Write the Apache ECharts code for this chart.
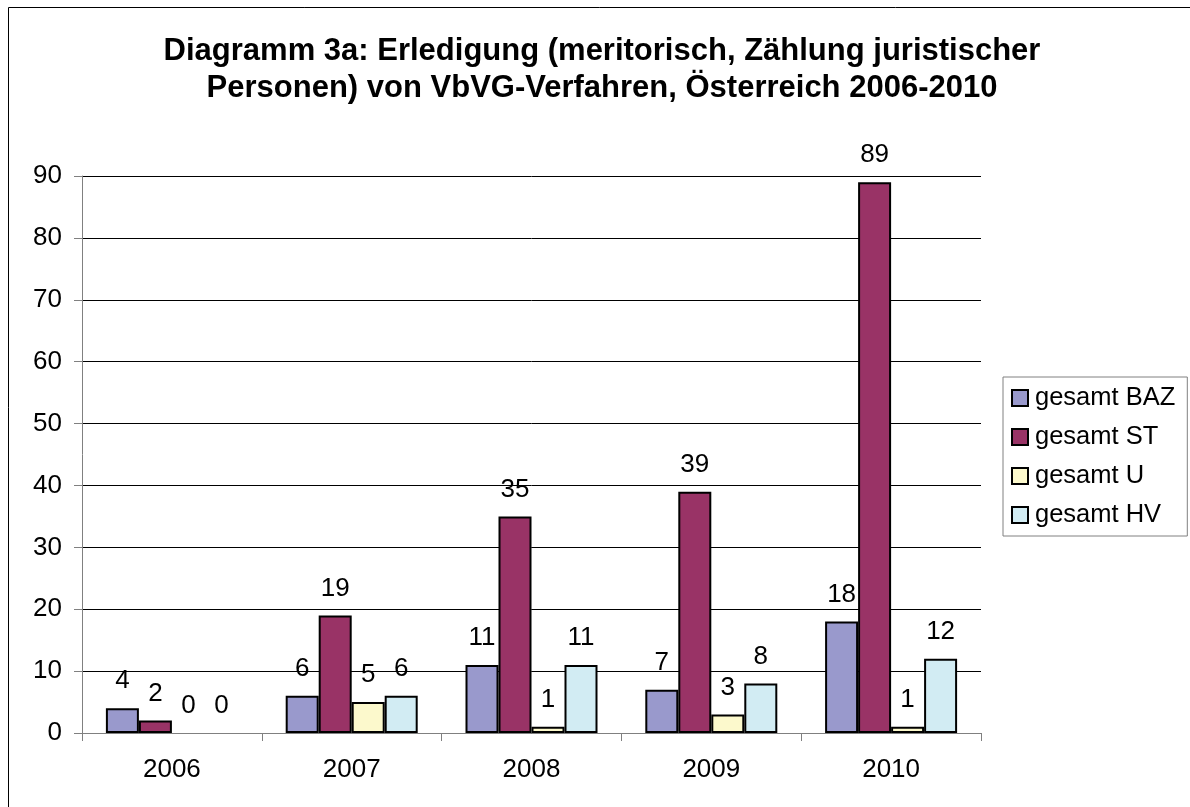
<!DOCTYPE html>
<html>
<head>
<meta charset="utf-8">
<script src="https://cdn.jsdelivr.net/npm/echarts@6/dist/echarts.min.js"></script>
<style>
  html, body { margin: 0; padding: 0; background: #fff; }
  #chart { width: 1190px; height: 807px; }
</style>
</head>
<body>
<div id="chart"></div>
<script>
// data
const years = ['2006', '2007', '2008', '2009', '2010'];
const seriesNames = ['gesamt BAZ', 'gesamt ST', 'gesamt U', 'gesamt HV'];
const baz = [4, 6, 11, 7, 18];
const st = [2, 19, 35, 39, 89];
const u = [0, 5, 1, 3, 1];
const hv = [0, 6, 11, 8, 12];
const colors = ['#9999cc', '#993366', '#fcf9cc', '#d2ecf3'];

const font = '"Liberation Sans", Arial, sans-serif';

const chart = echarts.init(document.getElementById('chart'));

const makeSeries = (name, data, color) => ({
  name: name,
  type: 'bar',
  // zero bars get no outline, like in Excel
  data: data.map(v => v === 0 ? { value: v, itemStyle: { borderWidth: 0 } } : v),
  barWidth: 33,
  barGap: '0%',
  itemStyle: { color: color, borderColor: '#000', borderWidth: 2 },
  label: {
    show: true,
    position: 'top',
    distance: 14,
    color: '#000',
    fontFamily: font,
    fontSize: 26
  }
});

chart.setOption({
  animation: false,
  backgroundColor: '#fff',
  textStyle: { fontFamily: font },
  title: {
    text: 'Diagramm 3a: Erledigung (meritorisch, Zählung juristischer\nPersonen) von VbVG-Verfahren, Österreich 2006-2010',
    left: 602,
    textAlign: 'center',
    top: 33,
    padding: 0,
    textStyle: {
      fontFamily: font,
      fontSize: 31,
      fontWeight: 'bold',
      lineHeight: 37,
      color: '#000'
    }
  },
  legend: {
    orient: 'vertical',
    left: 1003,
    top: 377,
    padding: [8, 12, 8, 8],
    itemGap: 13,
    itemWidth: 16,
    itemHeight: 16,
    borderColor: '#808080',
    borderWidth: 1,
    icon: 'rect',
    itemStyle: { borderColor: '#000', borderWidth: 2 },
    textStyle: { fontFamily: font, fontSize: 25.5, color: '#000', lineHeight: 25, padding: [0, 0, 0, 2] },
    data: seriesNames
  },
  graphic: [{
    type: 'rect',
    shape: { x: 8.5, y: 7.5, width: 1400, height: 1000 },
    style: { fill: 'none', stroke: '#000', lineWidth: 1 },
    silent: true
  }],
  grid: { left: 82, right: 209, top: 176, bottom: 74 },
  xAxis: {
    type: 'category',
    data: years,
    axisLine: { lineStyle: { color: '#808080', width: 1 } },
    axisTick: { show: true, length: 8, lineStyle: { color: '#808080' } },
    axisLabel: { color: '#000', fontFamily: font, fontSize: 26, margin: 24 }
  },
  yAxis: {
    type: 'value',
    min: 0,
    max: 90,
    interval: 10,
    axisLine: { show: true, lineStyle: { color: '#808080', width: 1 } },
    axisTick: { show: true, length: 8, lineStyle: { color: '#808080' } },
    axisLabel: { color: '#000', fontFamily: font, fontSize: 26, margin: 20 },
    splitLine: { show: true, lineStyle: { color: '#000', width: 1 } }
  },
  series: [
    makeSeries(seriesNames[0], baz, colors[0]),
    makeSeries(seriesNames[1], st, colors[1]),
    makeSeries(seriesNames[2], u, colors[2]),
    makeSeries(seriesNames[3], hv, colors[3])
  ]
});
</script>
</body>
</html>
